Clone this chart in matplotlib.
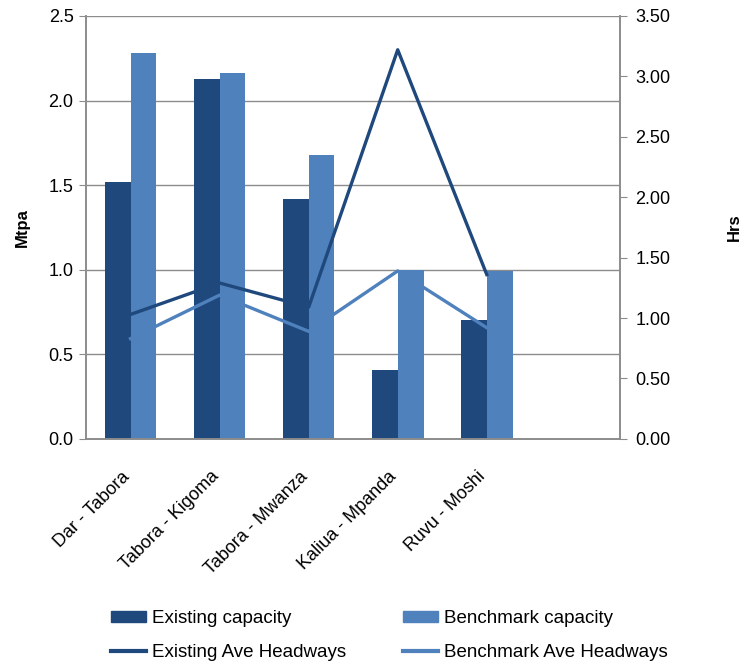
import numpy as np
import matplotlib.pyplot as plt
import matplotlib.transforms as mtransforms
from matplotlib.patches import Patch
from matplotlib.lines import Line2D

plt.rcParams['font.family'] = ['Liberation Sans', 'DejaVu Sans']

routes = ["Dar - Tabora", "Tabora - Kigoma", "Tabora - Mwanza",
          "Kaliua - Mpanda", "Ruvu - Moshi"]
existing_capacity = [1.52, 2.13, 1.42, 0.41, 0.70]
benchmark_capacity = [2.28, 2.16, 1.68, 1.00, 0.99]
existing_headways = [1.03, 1.29, 1.09, 3.22, 1.36]
benchmark_headways = [0.83, 1.19, 0.89, 1.39, 0.92]

DARK = "#1F497D"
LIGHT = "#4F81BD"
GRID = "#8C8C8C"

fig = plt.figure(figsize=(7.42, 6.64), dpi=100)
ax = fig.add_axes([0.116, 0.339, 0.720, 0.637])
ax2 = ax.twinx()

x = np.arange(len(routes))
w = 0.29
ax.bar(x - w / 2, existing_capacity, w, color=DARK, zorder=2)
ax.bar(x + w / 2, benchmark_capacity, w, color=LIGHT, zorder=2)
ax2.plot(x, existing_headways, color=DARK, lw=2.4)
ax2.plot(x, benchmark_headways, color=LIGHT, lw=2.4)

# one empty slot on the right, as in the original
ax.set_xlim(-0.5, len(routes) + 0.5)
ax.set_ylim(0, 2.5)
ax2.set_ylim(0, 3.5)
ax.set_yticks(np.arange(0, 2.51, 0.5))
ax.set_yticklabels([f"{v:.1f}" for v in np.arange(0, 2.51, 0.5)])
ax2.set_yticks(np.arange(0, 3.51, 0.5))
ax2.set_yticklabels([f"{v:.2f}" for v in np.arange(0, 3.51, 0.5)])

ax.set_xticks(x)
ax.set_xticklabels(routes, rotation=45, ha="right", rotation_mode="anchor",
                   fontsize=13)
ax.tick_params(axis="x", length=0, pad=6)
# nudge the slanted labels: a bit left and further down
shift = mtransforms.ScaledTranslation(-7 / 72, -15 / 72, fig.dpi_scale_trans)
for lab in ax.get_xticklabels():
    lab.set_transform(lab.get_transform() + shift)
ax.tick_params(axis="y", labelsize=13, length=5, color=GRID, pad=4)
ax2.tick_params(axis="y", labelsize=13, length=5, color=GRID, pad=6)

ax.grid(axis="y", color=GRID, lw=1)
ax.set_axisbelow(True)
for a in (ax, ax2):
    a.spines["top"].set_visible(False)
    for s in ("left", "right", "bottom"):
        a.spines[s].set_color(GRID)
        a.spines[s].set_linewidth(1.2)

ax.set_ylabel("Mtpa", fontsize=12, fontweight="bold")
ax.yaxis.set_label_coords(-0.105, 0.5)
ax2.set_ylabel("Hrs", fontsize=12, fontweight="bold", rotation=90)
ax2.yaxis.set_label_coords(1.20, 0.5)

handles = [Patch(color=DARK), Line2D([], [], color=DARK, lw=3),
           Patch(color=LIGHT), Line2D([], [], color=LIGHT, lw=3)]
labels = ["Existing capacity", "Existing Ave Headways",
          "Benchmark capacity", "Benchmark Ave Headways"]
fig.legend(handles, labels, ncol=2, loc="upper left",
           bbox_to_anchor=(0.150, 0.0815), frameon=False, fontsize=13.5,
           borderpad=0, borderaxespad=0,
           handlelength=1.87, handleheight=0.5, handletextpad=0.32,
           columnspacing=3.0, labelspacing=0.89)

fig.savefig("out.png", dpi=100)
